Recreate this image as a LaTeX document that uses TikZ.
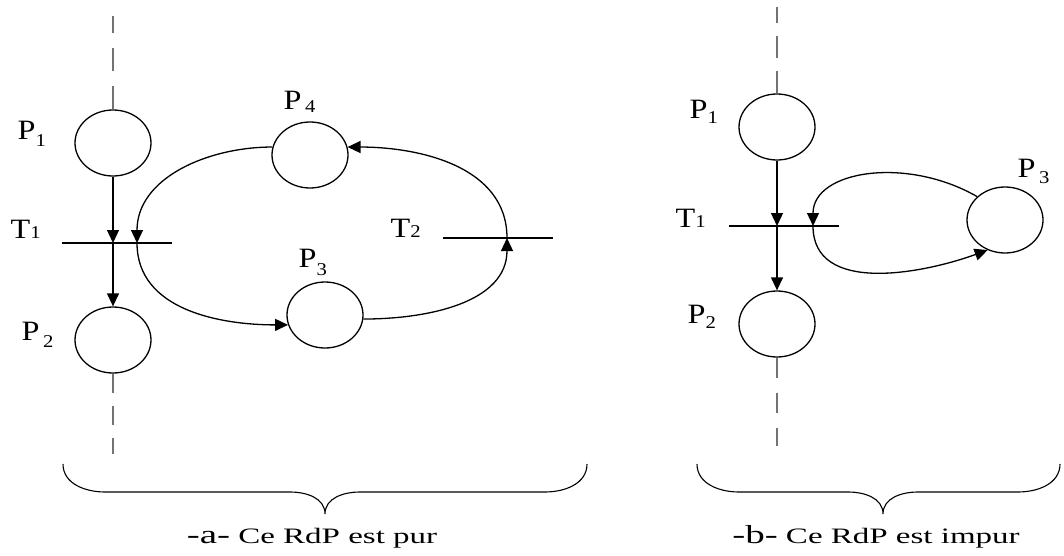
\documentclass[tikz,border=0pt]{standalone}
\usepackage{fontspec}
\setmainfont{Liberation Serif}
\usepackage{graphicx}
\usetikzlibrary{arrows.meta,shapes.geometric}

\newcommand{\lab}[3]{\scalebox{1.15}[1]{#1\raisebox{#3}{\fontsize{18}{18}\selectfont #2}}}

\begin{document}
\begin{tikzpicture}[x=1pt, y=1pt, line width=1.3pt,
  place/.style={draw, ellipse, minimum width=76pt, minimum height=66pt, inner sep=0pt},
  trans/.style={minimum width=108pt, minimum height=0pt, inner sep=0pt},
  lbl/.style={anchor=base west, inner sep=0pt, font=\fontsize{28}{30}\selectfont},
  capt/.style={anchor=base, inner sep=0pt, font=\fontsize{22}{24}\selectfont},
  flow/.style={-{Triangle[length=13pt,width=12pt]}},
  guide/.style={draw=black!55, line width=2.6pt}]
\useasboundingbox (0,0) rectangle (1064,-556);
\node[place] (P1a) at (113,-143) {};
\node[place] (P2a) at (113,-340) {};
\node[place] (P4a) at (310,-155) {};
\node[place] (P3a) at (325,-315) {};
\node[trans] (T1a) at (117,-243) {};
\node[trans] (T2a) at (498,-238) {};
\coordinate (L1a) at (137,-243);
\coordinate (L2a) at (507,-238);
\node[lbl] (p1a) at (17,-140) {\lab{P}{1}{-7pt}};
\node[lbl] (t1a) at (10,-238) {\lab{T}{1}{0pt}};
\node[lbl] (p2a) at (21,-340) {\lab{P}{\,2}{-7pt}};
\node[lbl] (p4a) at (283,-110) {\lab{P}{\,4}{-3pt}};
\node[lbl] (p3a) at (298,-267) {\lab{P}{3}{-8pt}};
\node[lbl] (t2a) at (390,-237) {\lab{T}{2}{0pt}};
\draw (T1a.west) -- (T1a.east);
\draw (T2a.west) -- (T2a.east);
\draw[guide, dash pattern=on 23pt off 15pt] (P1a.north) -- ++(0,93);
\draw[guide, dash pattern=on 19pt off 13pt] (P2a.south) -- ++(0,-80);
\draw[flow] (P1a) -- (P1a |- T1a);
\draw[flow] (P1a |- T1a) -- (P2a);
\draw[flow] (P4a.168) to[out=180, in=90] (L1a);
\draw[flow] (L1a) to[out=-90, in=180] (P3a.195);
\draw[flow] (P3a.354) to[out=0, in=-90] (L2a);
\draw[flow] (L2a) to[out=90, in=0] (P4a.12);

\node[place] (P1b) at (777,-127) {};
\node[place] (P2b) at (777,-324) {};
\node[place] (P3b) at (1005,-220) {};
\node[trans] (T1b) at (784,-226) {};
\coordinate (Lb) at (813,-226);
\node[lbl] (p1b) at (689,-119) {\lab{P}{1}{-5pt}};
\node[lbl] (t1b) at (675,-227) {\lab{T}{1}{0pt}};
\node[lbl] (p2b) at (687,-323) {\lab{P}{2}{-5pt}};
\node[lbl] (p3b) at (1017,-177) {\lab{P}{\,3}{-6pt}};
\draw (T1b.west) -- (T1b.east);
\draw[guide, dash pattern=on 22pt off 13pt] (P1b.north) -- ++(0,86);
\draw[guide, dash pattern=on 20pt off 15pt] (P2b.south) -- ++(0,-88);
\draw[flow] (P1b) -- (P1b |- T1b);
\draw[flow] (P1b |- T1b) -- (P2b);
\draw[flow] (P3b.140) to[out=150, in=90, out looseness=1.25, in looseness=0.85] (Lb);
\draw[flow] (Lb) to[out=-90, in=200] (P3b.240);

\draw[line width=1.1pt] (63,-464) to[out=-90, in=180] (105,-492) -- (290,-492) to[out=0, in=90] (325,-514)
  to[out=90, in=180] (360,-492) -- (545,-492) to[out=0, in=-90] (587,-464);
\draw[line width=1.1pt] (697,-464) to[out=-90, in=180] (739,-492) -- (848,-492) to[out=0, in=90] (883,-514)
  to[out=90, in=180] (918,-492) -- (1018,-492) to[out=0, in=-90] (1060,-464);
\node[capt] (capa) at (312,-543) {\scalebox{1.5}[1]{{\fontsize{26}{26}\selectfont -a-} Ce RdP est pur}};
\node[capt] (capb) at (876,-543) {\scalebox{1.5}[1]{{\fontsize{26}{26}\selectfont -b-} Ce RdP est impur}};
\end{tikzpicture}
\end{document}
